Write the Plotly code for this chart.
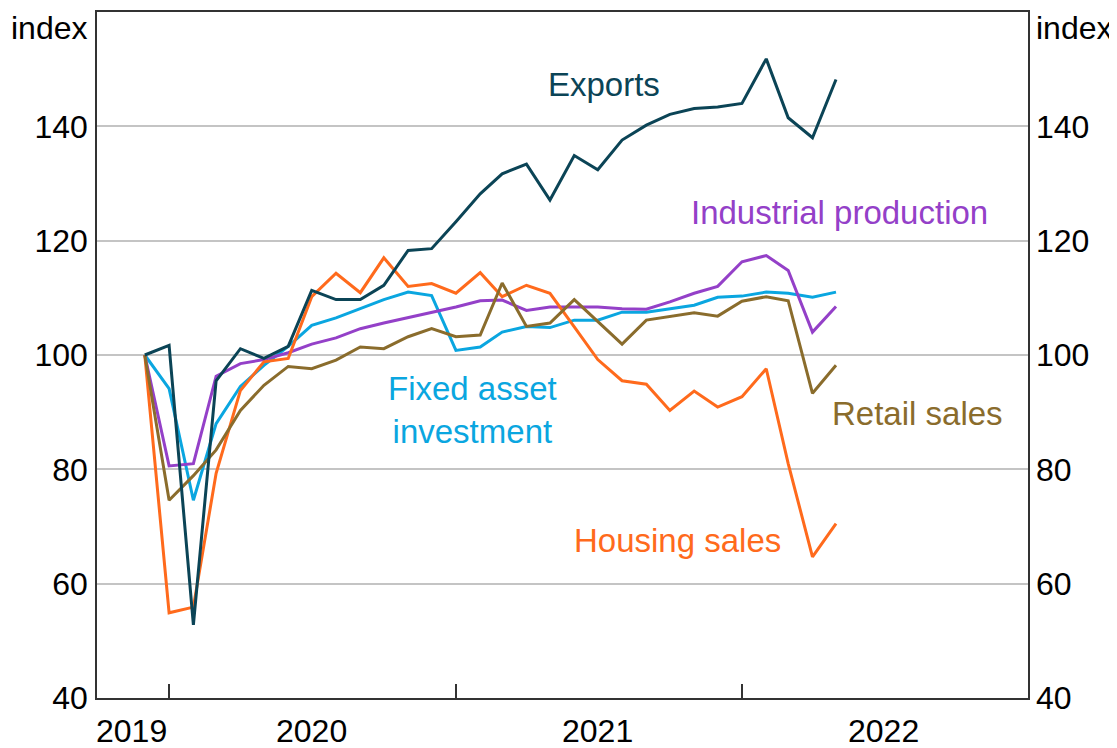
import plotly.graph_objects as go
import pandas as pd

# Monthly dates, Dec 2019 to May 2022
months = pd.date_range("2019-12-01", "2022-05-01", freq="MS").strftime("%Y-%m-%d").tolist()

exports = [100, 101.7, 52.8, 95.5, 101.1, 99.4, 101.5, 111.3, 109.7, 109.7,
           112.2, 118.3, 118.6, 123.3, 128.2, 131.7, 133.4, 127.1, 134.9, 132.4,
           137.6, 140.2, 142.1, 143.1, 143.4, 144.0, 151.8, 141.5, 138.0, 148.2]

housing_sales = [100, 54.9, 55.9, 79.3, 93.8, 98.8, 99.4, 110.2, 114.3, 110.9,
                 117.0, 112.0, 112.5, 110.8, 114.4, 110.2, 112.2, 110.8, 104.9, 99.2,
                 95.5, 94.9, 90.3, 93.7, 90.9, 92.7, 97.6, 81.0, 64.7, 70.5]

fixed_asset_investment = [100, 94.1, 74.6, 88.0, 94.5, 98.2, 101.5, 105.2, 106.5, 108.1,
                          109.7, 111.0, 110.4, 100.8, 101.4, 104.0, 105.0, 104.8, 106.1, 106.1,
                          107.5, 107.5, 108.1, 108.7, 110.1, 110.3, 111.0, 110.8, 110.1, 111.0]

industrial_production = [100, 80.6, 81.0, 96.3, 98.5, 99.2, 100.4, 101.9, 103.0, 104.6,
                         105.6, 106.5, 107.5, 108.4, 109.5, 109.6, 107.8, 108.4, 108.4, 108.4,
                         108.1, 108.0, 109.3, 110.8, 112.0, 116.3, 117.4, 114.8, 104.0, 108.5]

retail_sales = [100, 74.6, 78.9, 83.4, 90.3, 94.7, 98.0, 97.6, 99.1, 101.4,
                101.1, 103.2, 104.6, 103.2, 103.5, 112.6, 105.0, 105.6, 109.7, 105.8,
                101.9, 106.1, 106.8, 107.4, 106.8, 109.4, 110.2, 109.5, 93.3, 98.2]

y_ticks = [40, 60, 80, 100, 120, 140]
year_ticks = ["2020-01-01", "2021-01-01", "2022-01-01"]
year_labels = ["2019", "2020", "2021", "2022"]
year_label_pos = ["2019-11-14", "2020-07-01", "2021-07-01", "2022-07-01"]
base_value = 100

C_EXP = "#0B4456"
C_HOU = "#FF6A1C"
C_FAI = "#0AA6E0"
C_IP = "#9440C8"
C_RET = "#8A6C2C"

FONT = "Arial, Liberation Sans, sans-serif"
AXIS_COLOR = "#333333"

fig = go.Figure()

series = [
    (fixed_asset_investment, C_FAI),
    (industrial_production, C_IP),
    (housing_sales, C_HOU),
    (retail_sales, C_RET),
    (exports, C_EXP),
]
for vals, col in series:
    fig.add_trace(go.Scatter(x=months, y=vals, mode="lines",
                             line=dict(color=col, width=3),
                             showlegend=False, hoverinfo="skip"))

# invisible trace to activate right axis
fig.add_trace(go.Scatter(x=[months[0]], y=[base_value], yaxis="y2", mode="lines",
                         line=dict(width=0), showlegend=False, hoverinfo="skip"))

fig.add_shape(type="line", xref="paper", x0=0, x1=1, yref="y", y0=base_value, y1=base_value,
              line=dict(color="black", width=1.5), layer="between")

# page body has an 8px default margin, so the figure is sized to fit the window
fig.update_layout(
    width=1109, height=740,
    margin=dict(l=89, r=89, t=4, b=50, autoexpand=False),
    paper_bgcolor="white", plot_bgcolor="white",
    font=dict(family=FONT, size=32, color="black"),
    xaxis=dict(type="date", range=["2019-10-01", "2023-01-01"],
               tickvals=year_ticks, showticklabels=False, automargin=False,
               ticks="inside", ticklen=14, tickwidth=1.5, tickcolor=AXIS_COLOR,
               showgrid=False, zeroline=False,
               showline=True, linecolor=AXIS_COLOR, linewidth=1.5, mirror=True),
    yaxis=dict(range=[40, 160], tickvals=y_ticks, ticks="", automargin=False,
               showgrid=True, gridcolor="#C4C4C4", gridwidth=1.5, zeroline=False,
               showline=True, linecolor=AXIS_COLOR, linewidth=1.5, mirror=True,
               ticklabelstandoff=1,
               tickfont=dict(size=32, color="black", family=FONT)),
    yaxis2=dict(range=[40, 160], tickvals=y_ticks, ticks="", overlaying="y", side="right",
                automargin=False, ticklabelstandoff=7,
                showgrid=False, zeroline=False, showline=False,
                tickfont=dict(size=32, color="black", family=FONT)),
)

# year labels
for lab, pos in zip(year_labels, year_label_pos):
    fig.add_annotation(x=pos, xref="x", y=0, yref="paper", text=lab, showarrow=False,
                       yanchor="middle", yshift=-33, font=dict(size=32, color="black"))

# axis unit labels
fig.add_annotation(x=-0.008, xref="paper", y=0.977, yref="paper", text="index", showarrow=False,
                   xanchor="right", yanchor="middle", font=dict(size=32, color="black"))
fig.add_annotation(x=1.006, xref="paper", y=0.977, yref="paper", text="index", showarrow=False,
                   xanchor="left", yanchor="middle", font=dict(size=32, color="black"))

# series labels
labels = [
    ("Exports", 0.5446, 0.8936, C_EXP),
    ("Industrial production", 0.797, 0.707, C_IP),
    ("Fixed asset<br>investment", 0.4028, 0.4198, C_FAI),
    ("Retail sales", 0.8808, 0.414, C_RET),
    ("Housing sales", 0.6235, 0.2303, C_HOU),
]
for txt, xp, yp, col in labels:
    fig.add_annotation(x=xp, xref="paper", y=yp, yref="paper", text=txt, showarrow=False,
                       xanchor="center", yanchor="middle",
                       font=dict(size=33, color=col, family=FONT))

fig.write_html("out.html")
